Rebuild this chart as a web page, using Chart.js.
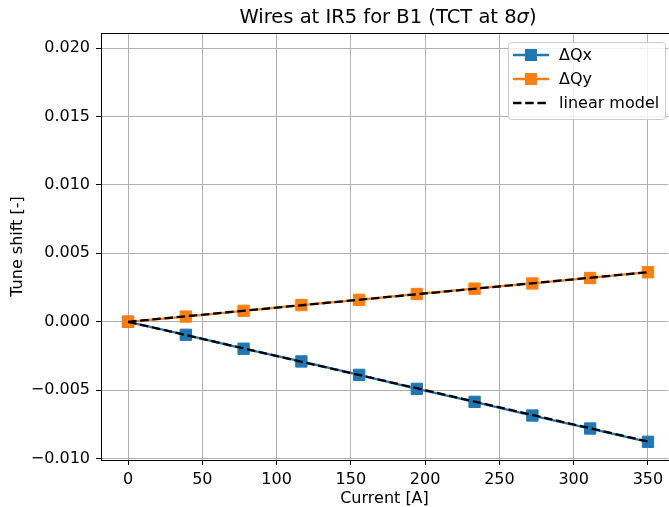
<!DOCTYPE html>
<html>
<head>
<meta charset="utf-8">
<script src="https://cdn.jsdelivr.net/npm/chart.js@4"></script>
<style>
  html, body { margin: 0; padding: 0; background: #fff; overflow: hidden; }
  #wrap { width: 669px; height: 507px; overflow: hidden; }
</style>
</head>
<body>
<div id="wrap"><canvas id="tune" width="677" height="507"></canvas></div>
<script>
// wire current scan and measured tune shifts
const current = [0, 38.9, 77.8, 116.7, 155.6, 194.4, 233.3, 272.2, 311.1, 350];
const dQx = [0, -0.00095, -0.00197, -0.0029, -0.00388, -0.0049, -0.00585, -0.00685, -0.0078, -0.00877];
const dQy = [0, 0.00038, 0.0008, 0.00122, 0.0016, 0.00203, 0.00242, 0.0028, 0.0032, 0.00362];

// linear model end points
const modelCurrent = [0, 350];
const modelQx = [0, -0.00875];
const modelQy = [0, 0.00362];

const xTicks = [0, 50, 100, 150, 200, 250, 300, 350];
const yTicks = [-0.010, -0.005, 0.000, 0.005, 0.010, 0.015, 0.020];

const FONT = "'DejaVu Sans', sans-serif";
const FS = 16;
const BLUE = '#1f77b4';
const ORANGE = '#ff7f0e';

function pts(xs, ys) {
  return xs.map((x, i) => ({ x: x, y: ys[i] }));
}

function fmtY(v) {
  const s = Math.abs(v) < 1e-12 ? '0.000' : v.toFixed(3);
  return s.replace('-', '\u2212');
}

// box outline top edge + title with italic sigma
const frame = {
  id: 'frame',
  afterDraw(chart) {
    const ctx = chart.ctx;
    const a = chart.chartArea;
    ctx.save();
    ctx.strokeStyle = '#000';
    ctx.lineWidth = 1;
    ctx.beginPath();
    ctx.moveTo(a.left, a.top + 0.5);
    ctx.lineTo(chart.width, a.top + 0.5);
    ctx.stroke();

    const parts = [
      { t: 'Wires at IR5 for B1 (TCT at 8', f: '19.5px ' + FONT },
      { t: '\u03c3', f: 'oblique 19.5px ' + FONT },
      { t: ')', f: '19.5px ' + FONT }
    ];
    let total = 0;
    parts.forEach(p => { ctx.font = p.f; p.w = ctx.measureText(p.t).width; total += p.w; });
    let x = 388 - total / 2;
    ctx.fillStyle = '#000';
    ctx.textBaseline = 'alphabetic';
    ctx.textAlign = 'left';
    parts.forEach(p => { ctx.font = p.f; ctx.fillText(p.t, x, 23); x += p.w; });
    ctx.restore();
  }
};

// matplotlib style legend box in the upper right
const legendBox = {
  id: 'legendBox',
  afterDraw(chart) {
    const ctx = chart.ctx;
    const x0 = 508, y0 = 42, w = 157, h = 77, r = 3;
    ctx.save();
    ctx.beginPath();
    ctx.roundRect(x0 + 0.5, y0 + 0.5, w, h, r);
    ctx.fillStyle = 'rgba(255,255,255,0.8)';
    ctx.fill();
    ctx.strokeStyle = '#cccccc';
    ctx.lineWidth = 1;
    ctx.stroke();

    const seen = {};
    const entries = chart.data.datasets.filter(d => {
      if (seen[d.label]) return false;
      seen[d.label] = true;
      return true;
    }).sort((a, b) => a.legendIndex - b.legendIndex);

    ctx.font = FS + 'px ' + FONT;
    ctx.textBaseline = 'middle';
    entries.forEach((d, i) => {
      const y = 55 + i * 24;
      ctx.beginPath();
      ctx.setLineDash(d.borderDash || []);
      ctx.strokeStyle = d.borderColor;
      ctx.lineWidth = d.borderWidth;
      ctx.moveTo(513, y);
      ctx.lineTo(549, y);
      ctx.stroke();
      ctx.setLineDash([]);
      if (d.pointRadius > 0) {
        ctx.fillStyle = d.backgroundColor;
        ctx.fillRect(525, y - 6, 12, 12);
      }
      ctx.fillStyle = '#000';
      ctx.fillText(d.label, 559, y + 1);
    });
    ctx.restore();
  }
};

new Chart(document.getElementById('tune').getContext('2d'), {
  type: 'line',
  data: {
    datasets: [
      {
        label: 'linear model', legendIndex: 2,
        data: pts(modelCurrent, modelQx),
        borderColor: '#000', borderWidth: 2.3, borderDash: [8.5, 3.7],
        pointRadius: 0, order: 0
      },
      {
        label: 'linear model', legendIndex: 2,
        data: pts(modelCurrent, modelQy),
        borderColor: '#000', borderWidth: 2.3, borderDash: [8.5, 3.7],
        pointRadius: 0, order: 0
      },
      {
        label: '\u0394Qx', legendIndex: 0,
        data: pts(current, dQx),
        borderColor: BLUE, backgroundColor: BLUE, borderWidth: 2.3,
        pointStyle: 'rect', pointRadius: 8, pointBorderWidth: 1,
        pointBorderColor: BLUE, order: 2
      },
      {
        label: '\u0394Qy', legendIndex: 1,
        data: pts(current, dQy),
        borderColor: ORANGE, backgroundColor: ORANGE, borderWidth: 2.3,
        pointStyle: 'rect', pointRadius: 8, pointBorderWidth: 1,
        pointBorderColor: ORANGE, order: 1
      }
    ]
  },
  options: {
    responsive: false,
    animation: false,
    devicePixelRatio: 1,
    layout: { padding: { top: 33, right: 0, left: 0, bottom: 0 } },
    elements: { line: { tension: 0 } },
    plugins: {
      legend: { display: false },
      tooltip: { enabled: false },
      title: { display: false }
    },
    scales: {
      x: {
        type: 'linear',
        min: -18.2,
        max: 363.5,
        afterBuildTicks: s => { s.ticks = xTicks.map(v => ({ value: v })); },
        afterFit: s => { s.height = 47; },
        grid: { color: '#b0b0b0', lineWidth: 1, tickColor: '#000', tickLength: 5 },
        border: { color: '#000', width: 1 },
        ticks: { color: '#000', font: { family: FONT, size: FS }, padding: 5, maxRotation: 0 },
        title: {
          display: true, text: 'Current [A]', color: '#000',
          font: { family: FONT, size: FS, lineHeight: 1 }, padding: { top: 0, bottom: 0 }
        }
      },
      y: {
        min: -0.0101,
        max: 0.0211,
        afterBuildTicks: s => { s.ticks = yTicks.map(v => ({ value: v })); },
        afterFit: s => { s.width = 101; },
        grid: { color: '#b0b0b0', lineWidth: 1, tickColor: '#000', tickLength: 5 },
        border: { color: '#000', width: 1 },
        ticks: { color: '#000', font: { family: FONT, size: FS }, padding: 6, callback: v => fmtY(v) },
        title: {
          display: true, text: 'Tune shift [-]', color: '#000',
          font: { family: FONT, size: FS, lineHeight: 1 }, padding: { top: 9.5, bottom: 0 }
        }
      }
    }
  },
  plugins: [frame, legendBox]
});
</script>
</body>
</html>
